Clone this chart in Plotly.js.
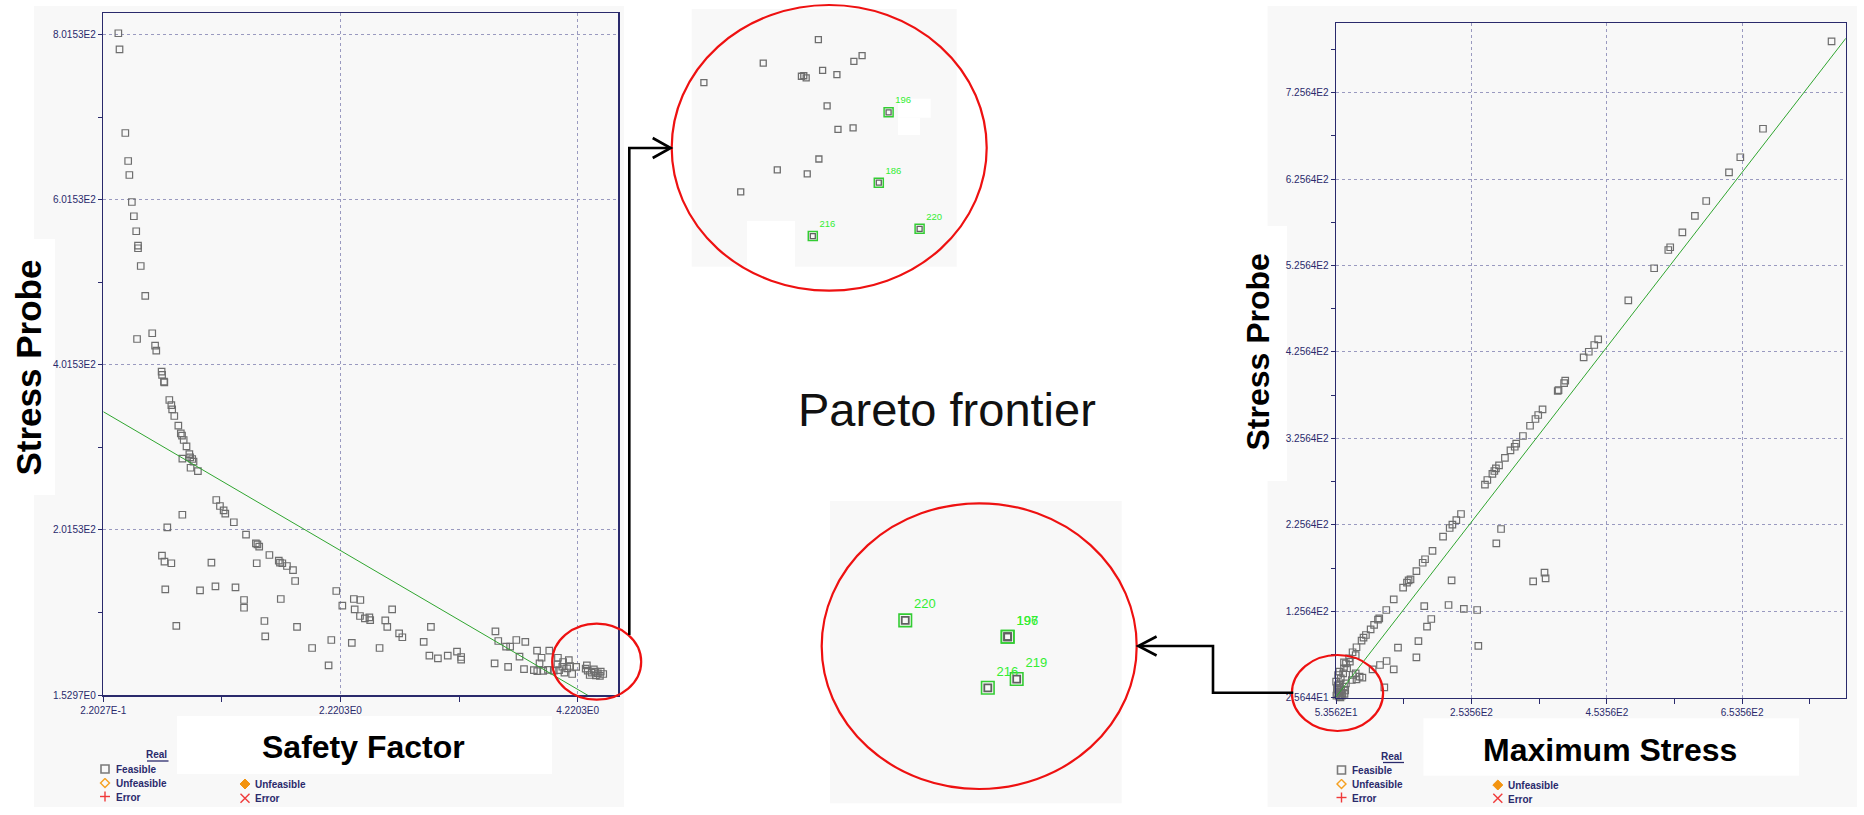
<!DOCTYPE html>
<html>
<head>
<meta charset="utf-8">
<script src="https://cdn.plot.ly/plotly-3.0.1.min.js"></script>
<style>html,body{margin:0;padding:0;background:#fff;}#chart{width:1864px;height:815px;}</style>
</head>
<body>
<div id="chart"></div>
<script>
// ---------------- DATA ----------------
// Left chart: Safety Factor (x) vs Stress Probe (y)
const safetyFactor = [0.347,0.357,0.406,0.430,0.440,0.461,0.478,0.498,0.513,0.513,0.536,0.574,0.505,0.633,0.657,0.667,0.712,0.716,0.732,0.735,0.777,0.794,0.801,0.819,
0.853,0.874,0.884,0.898,0.922,0.946,0.953,0.887,0.970,0.981,0.956,1.018,1.173,1.204,1.235,1.249,1.321,0.887,0.760,1.424,1.507,1.52,1.535,1.621,1.700,1.710,1.730,1.769,1.820,1.838,
0.715,0.736,0.794,1.132,1.514,0.743,1.036,1.166,1.335,1.407,1.407,1.717,0.836,1.579,1.586,1.854,1.981,2.143,2.120,2.185,2.236,2.316,2.333,2.388,2.340,2.385,2.426,2.464,2.471,
2.550,2.598,2.615,2.656,2.715,2.742,2.922,2.983,2.970,3.042,3.125,3.203,3.238,3.238,3.527,3.551,3.617,3.651,3.703,3.779,3.520,3.634,3.730,3.768,3.878,3.916,3.981,3.851,3.88,3.93,3.97,3.899,
4.054,4.098,4.146,4.05,4.091,4.132,4.109,4.157,4.208,4.174,4.064,4.019,
4.298,4.305,4.339,4.367,4.391,4.415,4.436,4.322,4.374,4.408,4.288,4.357];
const stressProbeL = [803.6,784,682.7,648.8,631.8,599.1,581.8,563.6,546.2,543,521.5,485.2,433,440,425,419,393.4,389.5,381.3,380.5,359.1,353,347.8,339.7,
328,318.7,315.8,310.6,303,293.6,289.6,288,287.6,284.3,277,273,237.9,230.6,225.4,221.3,210.9,220,204.8,195.8,185.4,184,181.3,171.2,164.3,161.9,161.2,157.9,153,139.7,
170.4,163.1,161.2,161.9,161.2,129.6,128.4,133.3,132.1,116.7,107.3,117.9,85.2,91.2,72.7,84,58.5,68.2,37.5,127.6,109.8,64.6,117.9,116.7,105.4,97.3,94.5,95.7,92.4,
58.5,92.1,84,105.4,76.3,71.5,65.8,84,49.2,46,49.2,54,47.6,44.4,78.7,67,60.1,60.1,68.2,65.8,39.9,35.5,48,33,55.2,46.7,55.2,31.8,30.5,30.7,32,39.9,
46.7,41.5,43.9,38.7,35.8,33.9,28.6,36.7,35.5,27,31.8,31,
37.5,31,28.6,29.8,27.8,29.8,27,25.8,25.4,24.6,33.4,32.7];
const fitLeftX = [0.22027, 4.398];
const fitLeftY = [344.9, -6.6];

// Right chart: Maximum Stress (x) vs Stress Probe (y)
const maxStress = [807,785.6,684.3,650.8,634.1,600.4,583.7,565.2,547.2,544.4,523.5,485.3,440.8,435,426.9,419.3,392.1,390.5,382.2,381,358.6,352.2,348.1,340.1,329.6,319.7,317.5,311.2,303,294.3,289.7,287.4,284.5,277,273.5,
238.1,231.2,225.4,221.4,211.6,196,185,181.5,172.2,163.5,160.7,158.3,152.6,138.7,127.7,117.3,115.5,109.7,104.6,97.6,94.1,91.2,83.7,77.9,82.5,72.8,65.2,69.8,58.3,60.5,52.5,56.5,60.5,65.2,68,76.8,83.7,92.4,
107.5,118.4,128.2,138.7,124.8,145,172.2,175.2,187.9,194.2,183.8,219.7,242.3,262,263.7,224.2,290.3,297.3,344.7,361.5,363.1,
53.6,56.5,52.5,58.2,62.3,54.8,59.4,64,68.1,73.9,65.2,78,82.5,88.3,
54,55,57,59,61,63,56,58,62,66,67,60];
const stressProbeR = [805.9,785.1,683.9,650.9,633.5,600.3,583,564.1,546.8,543.6,522.5,485.4,440.3,433.7,425.9,419.5,392.4,389.5,381.6,380.5,359.3,352.7,348.1,340.3,328.4,319.5,316,311.9,303,294.5,291,287.9,284.5,277.5,272.1,
238.2,231.2,225.8,222,211.9,195.4,185.8,181.8,172.2,162.6,161.5,158.7,152.9,139.5,127.1,117.5,115.9,109.8,104.8,98.2,95.1,91.6,84,78.2,75,71.2,66.6,59.7,55.7,48.1,38.4,34.6,30.7,38.4,42.3,46.1,46.9,48.8,
58.5,63.5,68.1,58.5,37.7,83.5,72.4,91.2,107.8,116.7,131.7,132.9,128.3,127.1,85.5,161.5,204.3,220.8,160.3,170.3,163.8,
44.2,51.9,32.6,26.8,25,36.5,42.3,53.9,65.4,67.3,59.7,51.9,53.9,50,
28,31,29,33,35,31,40,37,28,30,34,26];
const fitRightX = [53.56, 806.8];
const fitRightY = [26.7, 788.6];

// Tick values / labels
const leftXTickVals = [0.22027, 2.2203, 4.2203];
const leftXTickText = ["2.2027E-1","2.2203E0","4.2203E0"];
const leftXMinor = [1.2203, 3.2203];
const leftYTickVals = [1.5297, 201.53, 401.53, 601.53, 801.53];
const leftYTickText = ["1.5297E0","2.0153E2","4.0153E2","6.0153E2","8.0153E2"];
const leftYMinor = [101.53, 301.53, 501.53, 701.53];
const rightXTickVals = [53.562, 253.56, 453.56, 653.56];
const rightXTickText = ["5.3562E1","2.5356E2","4.5356E2","6.5356E2"];
const rightXMinor = [153.56, 353.56, 553.56, 753.56];
const rightYTickVals = [25.644,125.64,225.64,325.64,425.64,525.64,625.64,725.64];
const rightYTickText = ["2.5644E1","1.2564E2","2.2564E2","3.2564E2","4.2564E2","5.2564E2","6.2564E2","7.2564E2"];
const rightYMinor = [75.64,175.64,275.64,375.64,475.64,575.64,675.64,775.64];

// Zoomed inset (top): relative positions within the zoom window (0-100)
const zoomTopU = [47.8,27.0,4.6,41.4,42.3,43.2,49.4,54.8,61.2,64.3,51.1,55.2,60.9,48.0,32.3,43.6,18.5];
const zoomTopV = [88.1,79.0,71.4,73.9,74.1,73.3,76.2,74.5,79.7,81.9,62.4,53.3,53.9,41.8,37.6,36.0,29.0];
const paretoTopU = [74.3,70.6,86.0,45.7];
const paretoTopV = [59.9,32.6,14.7,11.9];
const paretoTopLabels = ["196","186","220","216"];
// Zoomed inset (bottom)
const paretoBotU = [25.8,60.9,60.9,64.0,54.1];
const paretoBotV = [60.5,55.1,55.1,41.1,38.2];
const paretoBotLabels = ["220","197","196","219","216"];

// ---------------- STYLE / LAYOUT ----------------
const W = 1864, H = 815;
const px = x => x / W;
const py = y => 1 - y / H;
const navy = '#2a2a6c';
const gridC = '#9a9ac0';
const panel = '#f8f8f8';
const markGray = '#6e6e6e';
const green = '#33cc33';
const textGreen = '#33ee33';
const tickFont = {family:'Liberation Sans, Arial, sans-serif', size:10, color:navy};

function mainAxis(domain, range, tv, tt, minor, ticklen) {
  return {
    domain: domain, range: range, tickmode:'array', tickvals: tv, ticktext: tt,
    ticks:'outside', ticklen: ticklen, tickwidth:1, tickcolor: navy,
    showline:true, mirror:true, linecolor: navy, linewidth:1.5,
    showgrid:true, gridcolor: gridC, griddash:'dot', gridwidth:1,
    zeroline:false, tickfont: tickFont, fixedrange:true,
    minor: {tickmode:'array', tickvals: minor, ticks:'outside', ticklen: ticklen, tickcolor: navy, showgrid:false}
  };
}

const traces = [
  {x: safetyFactor, y: stressProbeL, xaxis:'x', yaxis:'y', mode:'markers', type:'scatter', cliponaxis:false,
   marker:{symbol:'square-open', size:6.5, color:markGray, line:{width:1.2}}},
  {x: fitLeftX, y: fitLeftY, xaxis:'x', yaxis:'y', mode:'lines', type:'scatter', line:{color:'#2fa52f', width:1}},
  {x: maxStress, y: stressProbeR, xaxis:'x2', yaxis:'y2', mode:'markers', type:'scatter', cliponaxis:false,
   marker:{symbol:'square-open', size:6.5, color:markGray, line:{width:1.2}}},
  {x: fitRightX, y: fitRightY, xaxis:'x2', yaxis:'y2', mode:'lines', type:'scatter', line:{color:'#2fa52f', width:1}},
  {x: zoomTopU, y: zoomTopV, xaxis:'x3', yaxis:'y3', mode:'markers', type:'scatter', cliponaxis:false,
   marker:{symbol:'square-open', size:6, color:markGray, line:{width:1.3}}},
  {x: paretoTopU, y: paretoTopV, xaxis:'x3', yaxis:'y3', mode:'markers+text', type:'scatter', cliponaxis:false,
   text: paretoTopLabels, textposition:'top right',
   textfont:{family:'Liberation Sans, Arial, sans-serif', size:9.5, color:textGreen},
   marker:{symbol:'square-open', size:9, color:green, line:{width:1.5}}},
  {x: paretoTopU, y: paretoTopV, xaxis:'x3', yaxis:'y3', mode:'markers', type:'scatter', cliponaxis:false,
   marker:{symbol:'square-open', size:5, color:'#606060', line:{width:1.3}}},
  {x: paretoBotU, y: paretoBotV, xaxis:'x4', yaxis:'y4', mode:'markers+text', type:'scatter', cliponaxis:false,
   text: paretoBotLabels, textposition:'top right',
   textfont:{family:'Liberation Sans, Arial, sans-serif', size:13, color:textGreen},
   marker:{symbol:'square-open', size:12.5, color:green, line:{width:1.6}}},
  {x: paretoBotU, y: paretoBotV, xaxis:'x4', yaxis:'y4', mode:'markers', type:'scatter', cliponaxis:false,
   marker:{symbol:'square-open', size:7, color:'#606060', line:{width:1.8}}}
];

function rect(x0,y0,x1,y1,fill,layer){
  return {type:'rect', xref:'paper', yref:'paper', x0:px(x0), x1:px(x1), y0:py(y1), y1:py(y0),
          fillcolor:fill, line:{width:0}, layer: layer||'below'};
}
function ellipse(x0,y0,x1,y1){
  return {type:'circle', xref:'paper', yref:'paper', x0:px(x0), x1:px(x1), y0:py(y1), y1:py(y0),
          line:{color:'#ee1111', width:2.2}, fillcolor:'rgba(0,0,0,0)', layer:'above'};
}
function path(pts, color, width, fill){
  let d = pts.map((p,i)=>(i?'L':'M')+px(p[0]).toFixed(5)+','+py(p[1]).toFixed(5)).join(' ');
  if (fill) d += ' Z';
  return {type:'path', xref:'paper', yref:'paper', path:d, line:{color:color, width:width},
          fillcolor: fill || 'rgba(0,0,0,0)', layer:'above'};
}

const shapes = [
  rect(34,6,624,807,panel),
  rect(1267.6,6,1857,807,panel),
  rect(691.7,9,956.7,266.7,panel),
  rect(830,501,1121.7,803.3,panel),
  rect(747,221,795,267,'#ffffff'),
  rect(898,98.7,930.7,117.7,'#ffffff'),
  rect(898,117.7,920,135,'#ffffff'),
  rect(0,239,55,495,'#ffffff'),
  rect(177,716,552,774,'#ffffff'),
  rect(1250,226,1287,481,'#ffffff'),
  rect(1423.5,718.3,1799,775.7,'#ffffff'),
  ellipse(552.2,623.7,641.2,699.7),
  ellipse(1291.9,655,1383.1,731),
  ellipse(671.7,5,986.7,290.7),
  ellipse(821.7,503.3,1136.7,789),
  // arrows
  path([[629.3,635],[629.3,148],[670,148]], '#000', 2.6),
  path([[652.7,138],[670.7,148],[652.7,158]], '#000', 2.6),
  path([[1293.3,692.7],[1213,692.7],[1213,646],[1139,646]], '#000', 2.6),
  path([[1156.6,636.5],[1138.3,646],[1156.6,655.5]], '#000', 2.6),
  // legend underlines
  path([[147,761],[168.5,761]], navy, 1.3),
  path([[1383,762.5],[1404,762.5]], navy, 1.3)
];

// legend icons
function legendIcons(x1, x2, yF, yU, yE, yU2, yE2){
  const s = [];
  s.push({type:'rect', xref:'paper', yref:'paper', x0:px(x1-4), x1:px(x1+4), y0:py(yF+4), y1:py(yF-4),
          line:{color:'#7a7a7a', width:1.6}, fillcolor:'rgba(0,0,0,0)', layer:'above'});
  s.push(path([[x1,yU-4.5],[x1+4.5,yU],[x1,yU+4.5],[x1-4.5,yU],[x1,yU-4.5]], '#f5a020', 1.4));
  s.push(path([[x1-5,yE],[x1+5,yE]], '#f03a3a', 1.4));
  s.push(path([[x1,yE-5],[x1,yE+5]], '#f03a3a', 1.4));
  s.push(path([[x2,yU2-5],[x2+5,yU2],[x2,yU2+5],[x2-5,yU2]], '#f39410', 1, '#f39410'));
  s.push(path([[x2-4.5,yE2-4.5],[x2+4.5,yE2+4.5]], '#f03a3a', 1.4));
  s.push(path([[x2-4.5,yE2+4.5],[x2+4.5,yE2-4.5]], '#f03a3a', 1.4));
  return s;
}
shapes.push(...legendIcons(105, 245, 769, 783, 796.5, 784, 798.3));
shapes.push(...legendIcons(1341.5, 1497.8, 770, 784, 797.5, 785, 798.3));

const legFont = {family:'Liberation Sans, Arial, sans-serif', size:10, color:navy};
function ann(text, x, y, opts){
  return Object.assign({text:text, xref:'paper', yref:'paper', x:px(x), y:py(y), showarrow:false,
    xanchor:'center', yanchor:'middle'}, opts||{});
}
const titleFont = {family:'Liberation Sans, Arial, sans-serif', size:32, color:'#000'};
const annotations = [
  ann('<b>Stress Probe</b>', 27.5, 368, {textangle:-90, font:Object.assign({}, titleFont, {size:35})}),
  ann('<b>Stress Probe</b>', 1258, 352.5, {textangle:-90, font:titleFont}),
  ann('<b>Safety Factor</b>', 363.5, 747, {font:titleFont}),
  ann('<b>Maximum Stress</b>', 1610.4, 749.5, {font:titleFont}),
  ann('Pareto frontier', 946.7, 409, {font:{family:'Liberation Sans, Arial, sans-serif', size:47, color:'#111'}}),
  // left legend
  ann('<b>Real</b>', 168.5, 754.5, {xanchor:'right', font:legFont}),
  ann('<b>Feasible</b>', 113.5, 769.5, {xanchor:'left', font:legFont}),
  ann('<b>Unfeasible</b>', 113.5, 783.5, {xanchor:'left', font:legFont}),
  ann('<b>Error</b>', 113.5, 797, {xanchor:'left', font:legFont}),
  ann('<b>Unfeasible</b>', 253.3, 784.5, {xanchor:'left', font:legFont}),
  ann('<b>Error</b>', 253.3, 798.5, {xanchor:'left', font:legFont}),
  // right legend
  ann('<b>Real</b>', 1404, 756.5, {xanchor:'right', font:legFont}),
  ann('<b>Feasible</b>', 1349.8, 770.5, {xanchor:'left', font:legFont}),
  ann('<b>Unfeasible</b>', 1349.8, 784.5, {xanchor:'left', font:legFont}),
  ann('<b>Error</b>', 1349.8, 798, {xanchor:'left', font:legFont}),
  ann('<b>Unfeasible</b>', 1505.7, 785.5, {xanchor:'left', font:legFont}),
  ann('<b>Error</b>', 1505.7, 799, {xanchor:'left', font:legFont})
];

const hiddenAxis = (domain, anchor) => ({domain:domain, range:[0,100], visible:false, fixedrange:true, anchor:anchor});

const layout = {
  width: W, height: H, margin:{l:0, r:0, t:0, b:0},
  paper_bgcolor:'#ffffff', plot_bgcolor:'rgba(0,0,0,0)', showlegend:false,
  xaxis: Object.assign(mainAxis([px(103.3), px(618.4)], [0.22027, 4.564], leftXTickVals, leftXTickText, leftXMinor, 5), {anchor:'y'}),
  yaxis: Object.assign(mainAxis([py(695), py(13.3)], [1.5297, 827.8], leftYTickVals, leftYTickText, leftYMinor, 4), {anchor:'x'}),
  xaxis2: Object.assign(mainAxis([px(1336.1), px(1845.9)], [53.562, 806.8], rightXTickVals, rightXTickText, rightXMinor, 5), {anchor:'y2'}),
  yaxis2: Object.assign(mainAxis([py(697.7), py(23.3)], [25.644, 805.9], rightYTickVals, rightYTickText, rightYMinor, 4), {anchor:'x2'}),
  xaxis3: hiddenAxis([px(691.7), px(956.7)], 'y3'),
  yaxis3: hiddenAxis([py(266.7), py(9)], 'x3'),
  xaxis4: hiddenAxis([px(830), px(1121.7)], 'y4'),
  yaxis4: hiddenAxis([py(803.3), py(501)], 'x4'),
  shapes: shapes,
  annotations: annotations,
  font: {family:'Liberation Sans, Arial, sans-serif'}
};

Plotly.newPlot('chart', traces, layout, {staticPlot:true, displayModeBar:false});
</script>
</body>
</html>
